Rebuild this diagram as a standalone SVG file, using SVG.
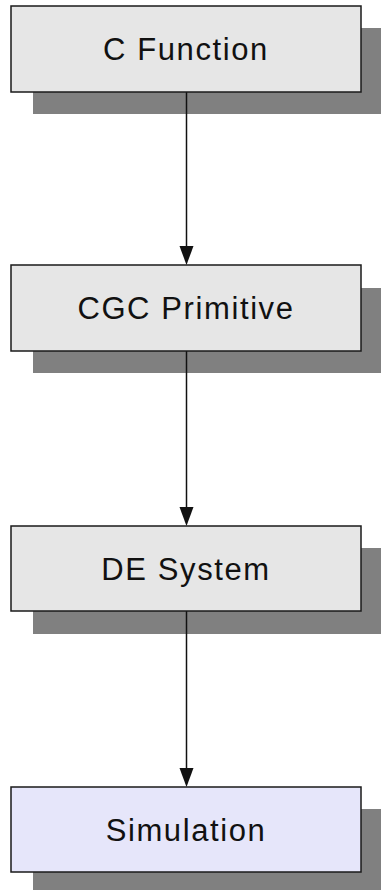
<svg xmlns="http://www.w3.org/2000/svg" width="381" height="890" viewBox="0 0 381 890">
  <style>
    .shadow { fill: #808080; }
    .box { fill: #e6e6e6; stroke: #1a1a1a; stroke-width: 1.5; }
    .box.sim { fill: #e6e6fa; }
    .label { font-family: "Liberation Sans", Arial, sans-serif; font-size: 31px; fill: #111; text-anchor: middle; letter-spacing: 1.6px; }
    #connectors line { stroke: #111; stroke-width: 1.5; fill: none; }
    #connectors polygon { fill: #111; }
  </style>

  <!-- drop shadows sit under everything -->
  <g id="shadows">
    <rect class="shadow" x="33" y="28" width="350" height="86"/>
    <rect class="shadow" x="33" y="288" width="350" height="85"/>
    <rect class="shadow" x="33" y="548" width="350" height="86"/>
    <rect class="shadow" x="33" y="809" width="350" height="81"/>
  </g>

  <g id="connectors">
    <line x1="186.5" y1="92" x2="186.5" y2="247"/>
    <polygon points="179.5,246 193.5,246 186.5,265"/>
    <line x1="186.5" y1="351" x2="186.5" y2="508"/>
    <polygon points="179.5,507 193.5,507 186.5,526"/>
    <line x1="186.5" y1="611" x2="186.5" y2="769"/>
    <polygon points="179.5,768 193.5,768 186.5,787"/>
  </g>

  <g id="c-function">
    <rect class="box" x="11" y="6" width="350" height="86"/>
    <text class="label" x="186" y="60">C Function</text>
  </g>
  <g id="cgc-primitive">
    <rect class="box" x="11" y="265" width="350" height="86"/>
    <text class="label" x="186" y="319">CGC Primitive</text>
  </g>
  <g id="de-system">
    <rect class="box" x="11" y="526" width="350" height="85"/>
    <text class="label" x="186" y="580">DE System</text>
  </g>
  <g id="simulation">
    <rect class="box sim" x="11" y="787" width="350" height="85"/>
    <text class="label" x="186" y="841">Simulation</text>
  </g>
</svg>
